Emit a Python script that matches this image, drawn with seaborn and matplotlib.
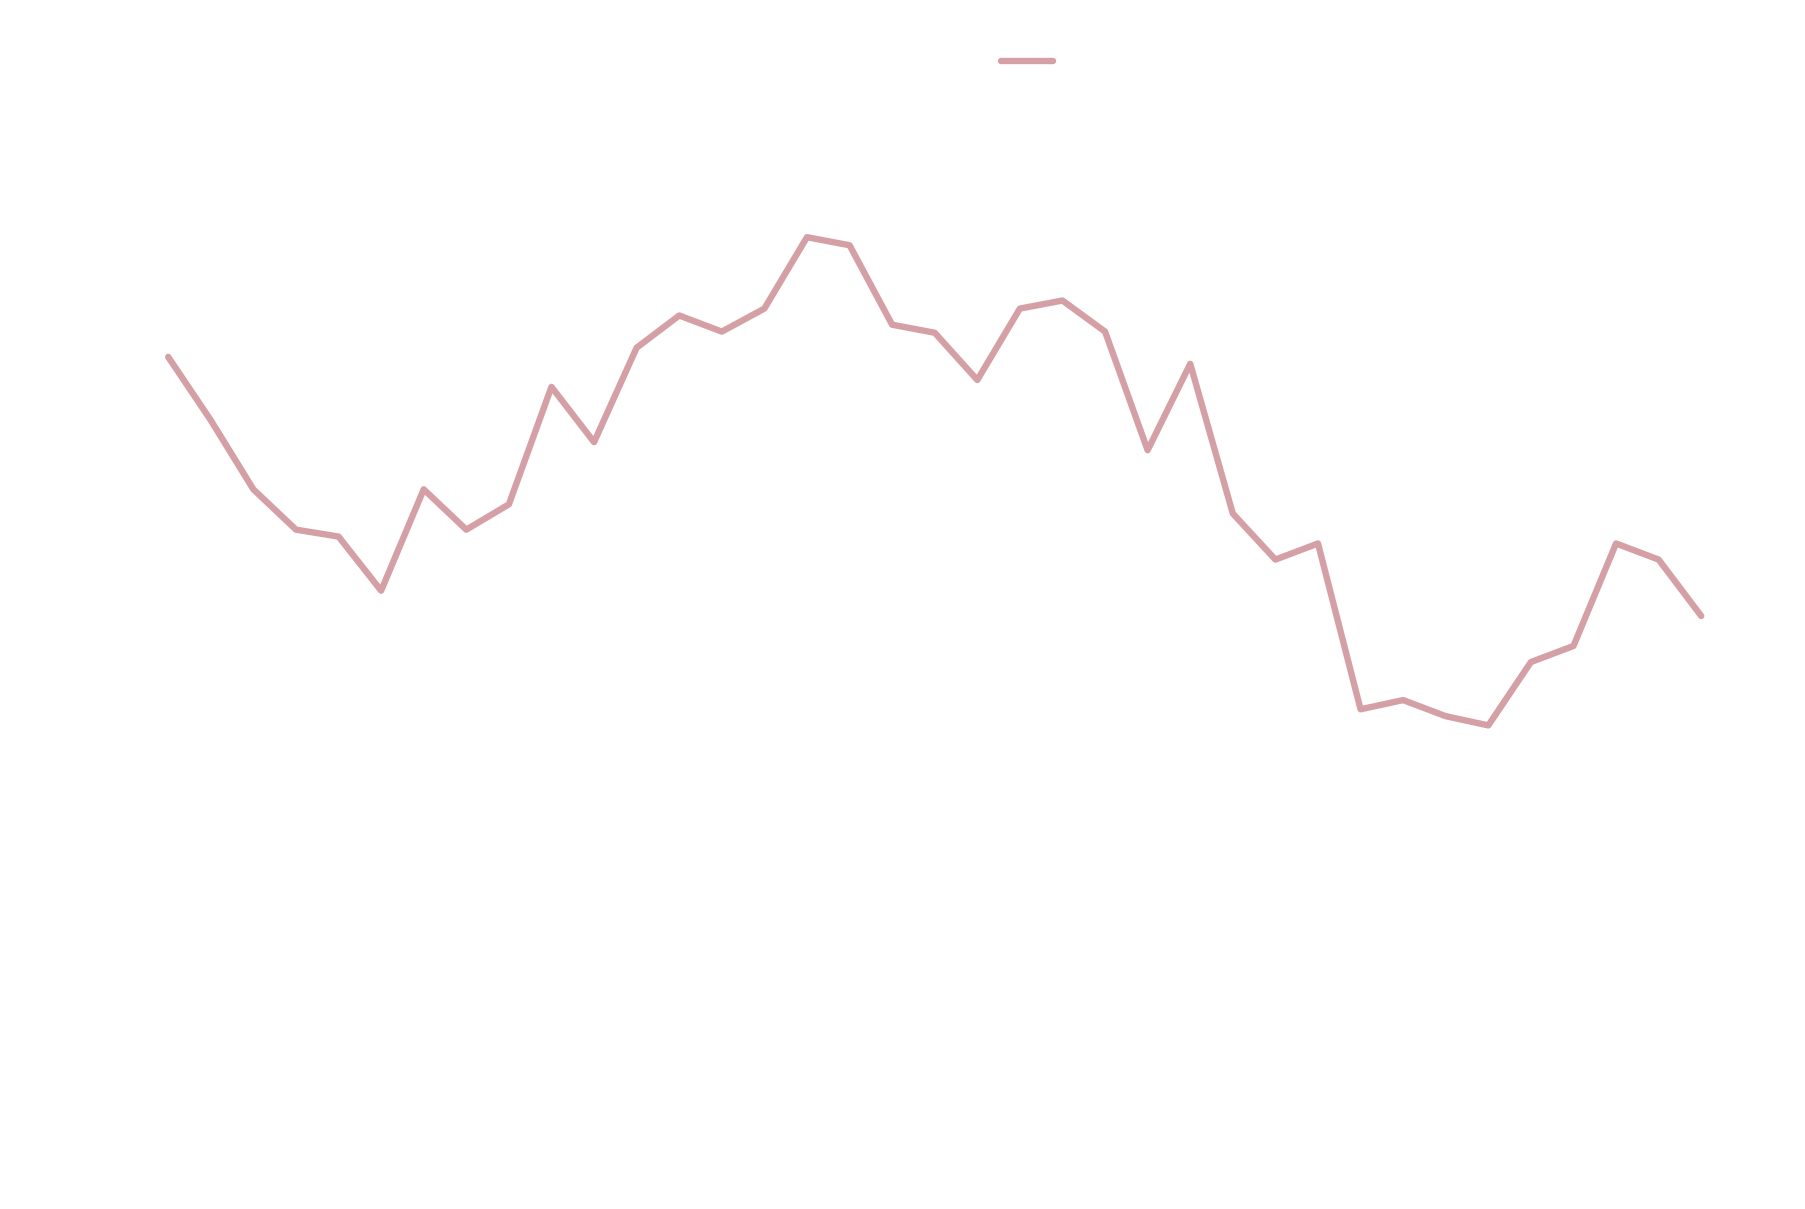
import seaborn as sns
import pandas as pd
import numpy as np
import matplotlib.pyplot as plt

# values (arbitrary units, axes hidden)
periods = list(range(37))
values = [74.0, 68.5, 62.5, 59.0, 58.4, 53.7, 62.5, 59.0, 61.2, 71.4,
          66.6, 74.8, 77.6, 76.2, 78.2, 84.4, 83.7, 76.8, 76.1, 72.0,
          78.2, 78.9, 76.2, 65.9, 73.4, 60.4, 56.4, 57.8, 43.4, 44.2,
          42.8, 42.0, 47.5, 48.9, 57.8, 56.4, 51.5]
series_name = 'value'

sns.set_theme(style='white')
df = pd.DataFrame({'period': periods, 'value': values})

fig = plt.figure(figsize=(18.06, 12.09), dpi=100)
ax = fig.add_axes([0, 0, 1, 1])
sns.lineplot(df, x='period', y='value', ax=ax, color='#d4a0a6',
             linewidth=4.6, solid_capstyle='round', solid_joinstyle='round',
             label=series_name)
ax.set_xlim(-3.95, 38.46)
ax.set_ylim(0, 105)
ax.set_axis_off()

leg = ax.legend(loc='upper left', bbox_to_anchor=(0.5447, 0.971), frameon=False,
                handlelength=2.65, fontsize=14)
for t in leg.get_texts():
    t.set_color('white')

plt.savefig('out.png', dpi=100, facecolor='white')
